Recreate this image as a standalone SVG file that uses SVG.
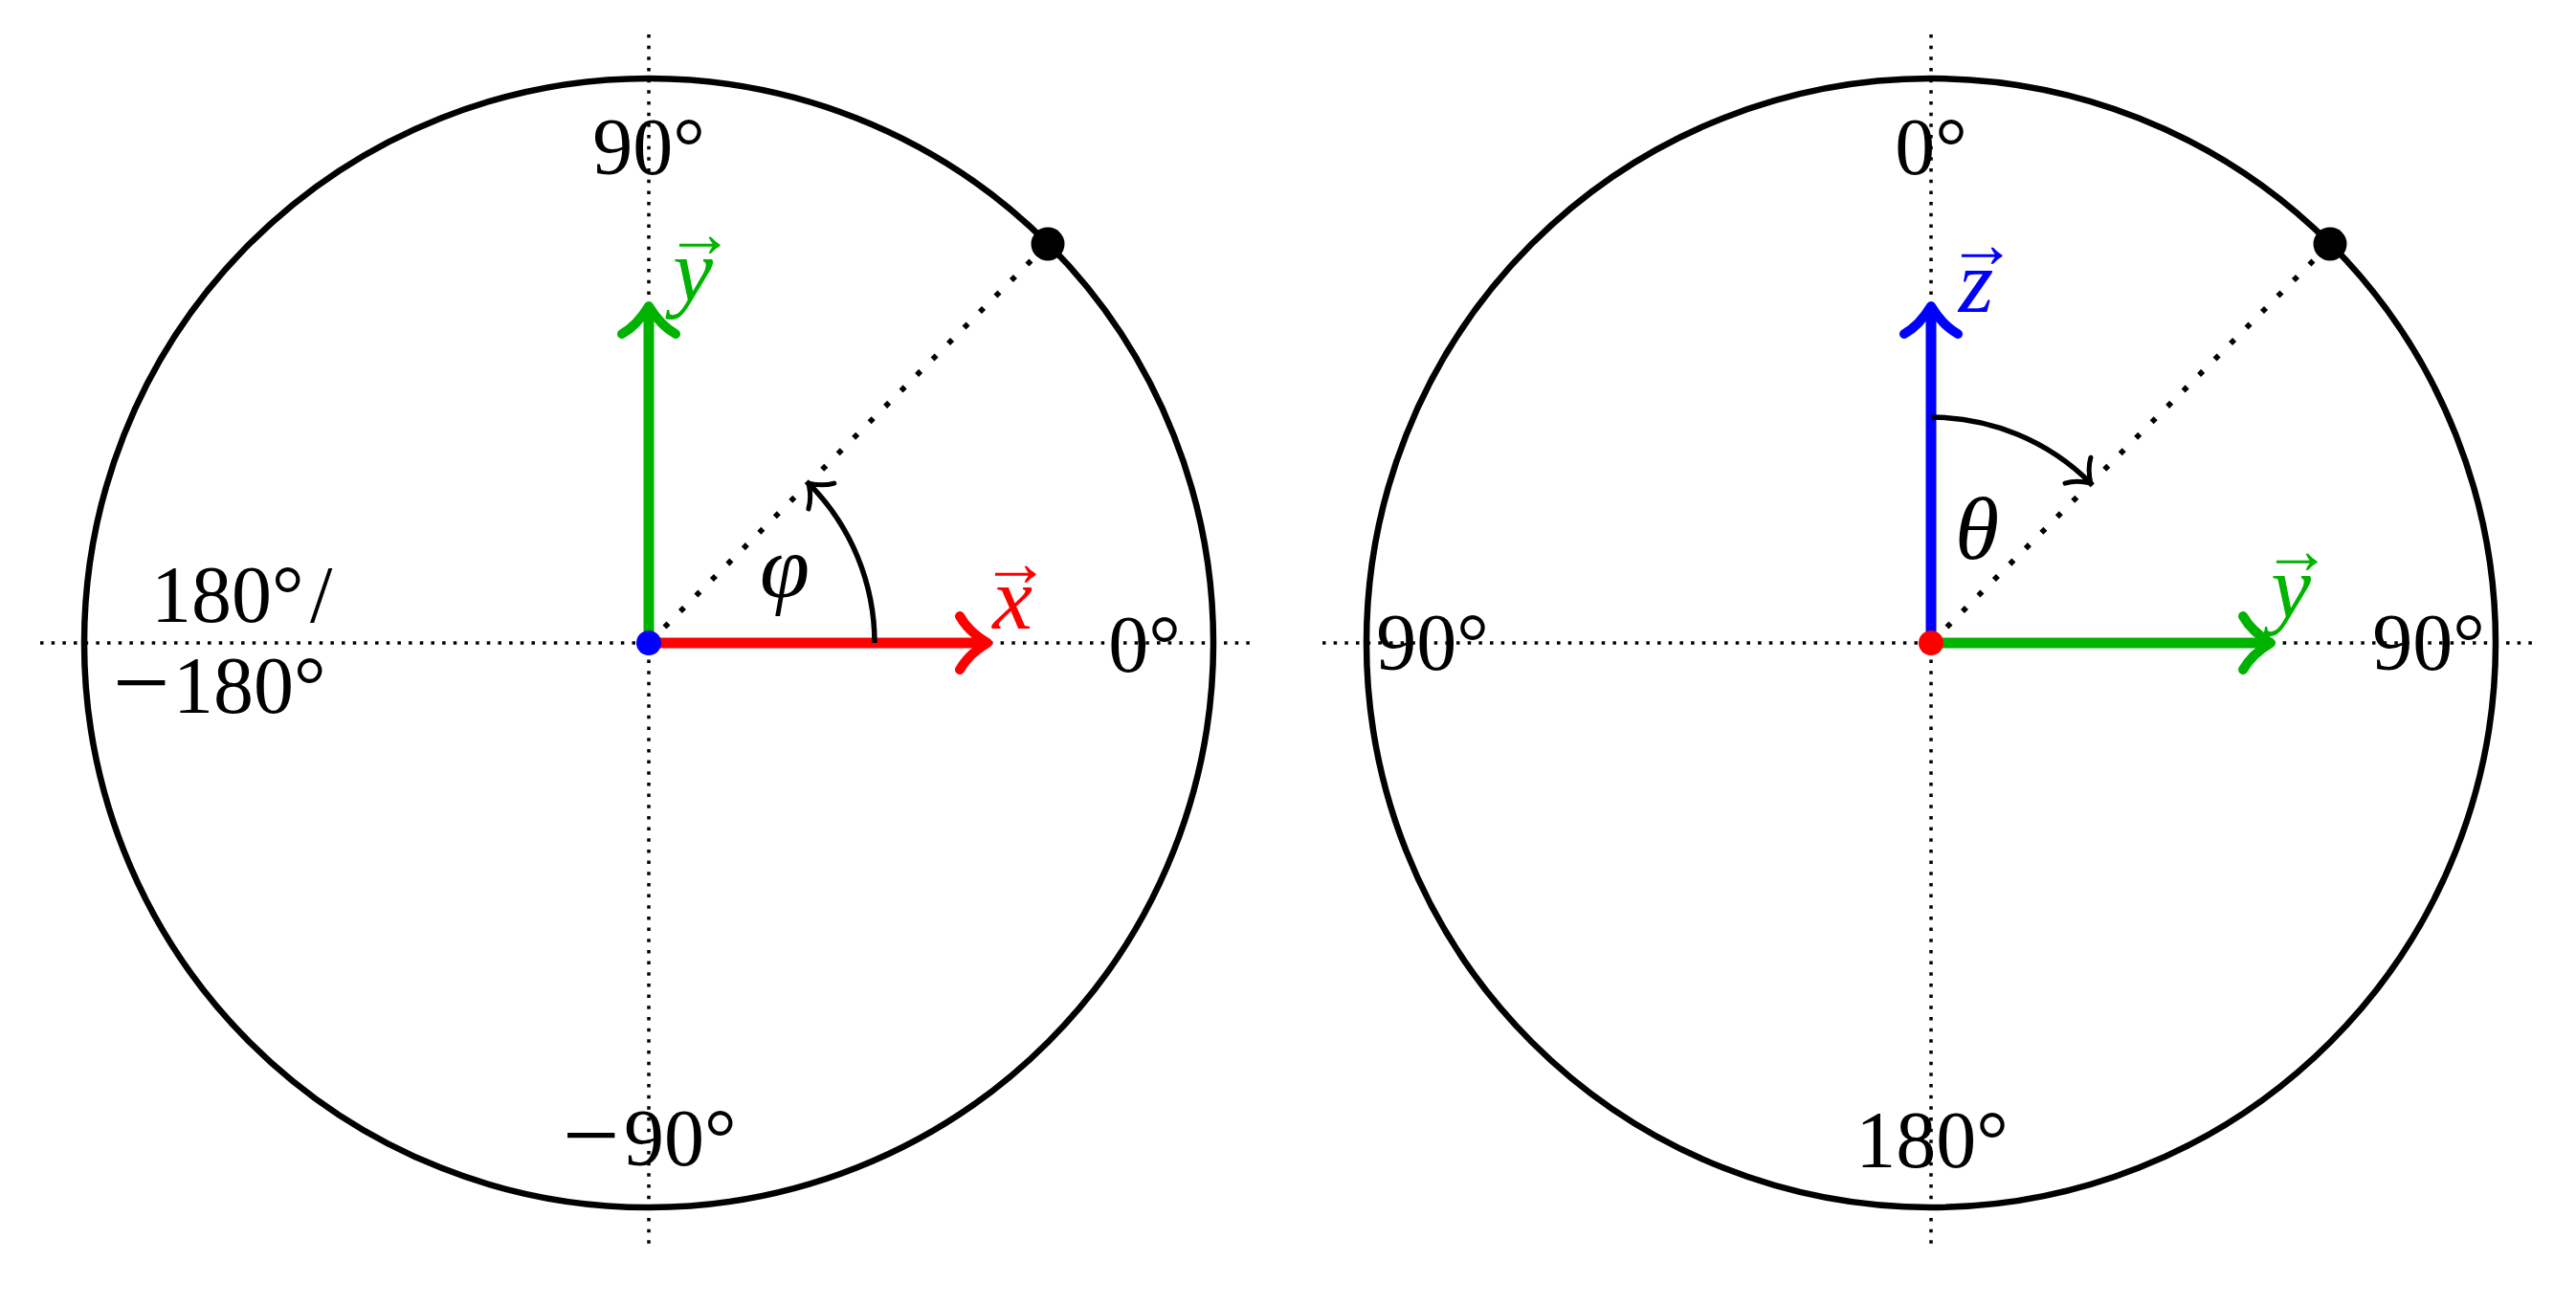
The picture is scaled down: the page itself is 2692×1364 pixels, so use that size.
<svg xmlns="http://www.w3.org/2000/svg" width="2692" height="1364" viewBox="0 0 2692 1364">
<style>
.axis{stroke:#000;stroke-width:3.5;stroke-dasharray:3.5 8.17;fill:none}
.diag{stroke:#000;stroke-width:5.7;stroke-dasharray:5.7 17.6;fill:none}
.ring{stroke:#000;stroke-width:6.5;fill:none}
.vec{stroke-width:11;fill:none;stroke-linecap:round}
.head{fill:none;stroke-width:10;stroke-linecap:round;stroke-linejoin:round}
.arc{stroke:#000;stroke-width:5.5;fill:none}
.shead{fill:none;stroke:#000;stroke-width:5;stroke-linecap:round;stroke-linejoin:round}
.lbl{font-family:"Liberation Serif",serif;font-size:84px;fill:#000}
.math{font-family:"Liberation Serif",serif;font-style:italic;font-size:94px;text-anchor:middle}
.acc{font-family:"Liberation Serif",serif;font-style:normal;font-size:72px;text-anchor:middle}
.mid{text-anchor:middle}
</style>
<defs>
<path id="bighead" d="M -29 -28 Q -20 -12 0 0 Q -20 12 -29 28"/>
<path id="smallhead" d="M -19 -19 Q -13 -8 0 0 Q -13 8 -19 19"/>
</defs>
<rect width="2692" height="1364" fill="#fff"/>

<g id="left-panel">
  <g id="left-axes">
    <line class="axis" x1="42" y1="672" x2="1314" y2="672"/>
    <line class="axis" x1="678" y1="36" x2="678" y2="1308"/>
  </g>
  <circle id="left-circle" class="ring" cx="678" cy="672" r="590"/>
  <g id="left-connectors">
    <line class="diag" x1="678" y1="672" x2="1095" y2="255"/>
    <line class="vec" stroke="#00b300" x1="678" y1="672" x2="678" y2="326"/>
    <use href="#bighead" class="head" stroke="#00b300" transform="translate(678 320) rotate(-90)"/>
    <line class="vec" stroke="#ff0000" x1="678" y1="672" x2="1026" y2="672"/>
    <use href="#bighead" class="head" stroke="#ff0000" transform="translate(1032 672)"/>
    <path class="arc" d="M 914 672 A 236 236 0 0 0 844.9 505.1"/>
    <use href="#smallhead" class="shead" transform="translate(844.9 505.1) rotate(225)"/>
  </g>
  <circle id="left-origin" cx="678" cy="672" r="13" fill="#0000ff"/>
  <circle id="left-point" cx="1095" cy="255" r="17.5" fill="#000"/>
  <g id="left-labels">
    <text class="lbl mid" x="678" y="182">90°</text>
    <text class="lbl"><tspan x="588" y="1222" font-size="106">−</tspan><tspan x="652" y="1218">90°</tspan></text>
    <text class="lbl mid" x="1196" y="702">0°</text>
    <text class="lbl" x="158" y="650">180°<tspan x="324">/</tspan></text>
    <text class="lbl"><tspan x="118" y="749" font-size="106">−</tspan><tspan x="181" y="745">180°</tspan></text>
    <text id="label-y-left" class="math" fill="#00b300" x="724" y="314">y<tspan class="acc" x="731" y="268">→</tspan></text>
    <text id="label-x" class="math" fill="#ff0000" x="1058" y="657">x<tspan class="acc" x="1061" y="612">→</tspan></text>
    <text id="label-phi" class="math" x="820" y="624" font-size="90">φ</text>
  </g>
</g>

<g id="right-panel">
  <g id="right-axes">
    <line class="axis" x1="1382" y1="672" x2="2654" y2="672"/>
    <line class="axis" x1="2018" y1="36" x2="2018" y2="1308"/>
  </g>
  <circle id="right-circle" class="ring" cx="2018" cy="672" r="590"/>
  <g id="right-connectors">
    <line class="diag" x1="2018" y1="672" x2="2435" y2="255"/>
    <line class="vec" stroke="#0000ff" x1="2018" y1="672" x2="2018" y2="326"/>
    <use href="#bighead" class="head" stroke="#0000ff" transform="translate(2018 320) rotate(-90)"/>
    <line class="vec" stroke="#00b300" x1="2018" y1="672" x2="2367" y2="672"/>
    <use href="#bighead" class="head" stroke="#00b300" transform="translate(2373 672)"/>
    <path class="arc" d="M 2018 436 A 236 236 0 0 1 2184.9 505.1"/>
    <use href="#smallhead" class="shead" transform="translate(2184.9 505.1) rotate(45)"/>
  </g>
  <circle id="right-origin" cx="2018" cy="672" r="13" fill="#ff0000"/>
  <circle id="right-point" cx="2435" cy="255" r="17.5" fill="#000"/>
  <g id="right-labels">
    <text class="lbl mid" x="2018" y="182">0°</text>
    <text class="lbl mid" x="2019" y="1220">180°</text>
    <text class="lbl mid" x="1497" y="700">90°</text>
    <text class="lbl mid" x="2538" y="700">90°</text>
    <text id="label-z" class="math" fill="#0000ff" x="2065" y="326">z<tspan class="acc" x="2071" y="279">→</tspan></text>
    <text id="label-y-right" class="math" fill="#00b300" x="2394" y="645">y<tspan class="acc" x="2400" y="599">→</tspan></text>
    <text id="label-theta" class="math" x="2066" y="584" font-size="86">θ</text>
  </g>
</g>
</svg>
